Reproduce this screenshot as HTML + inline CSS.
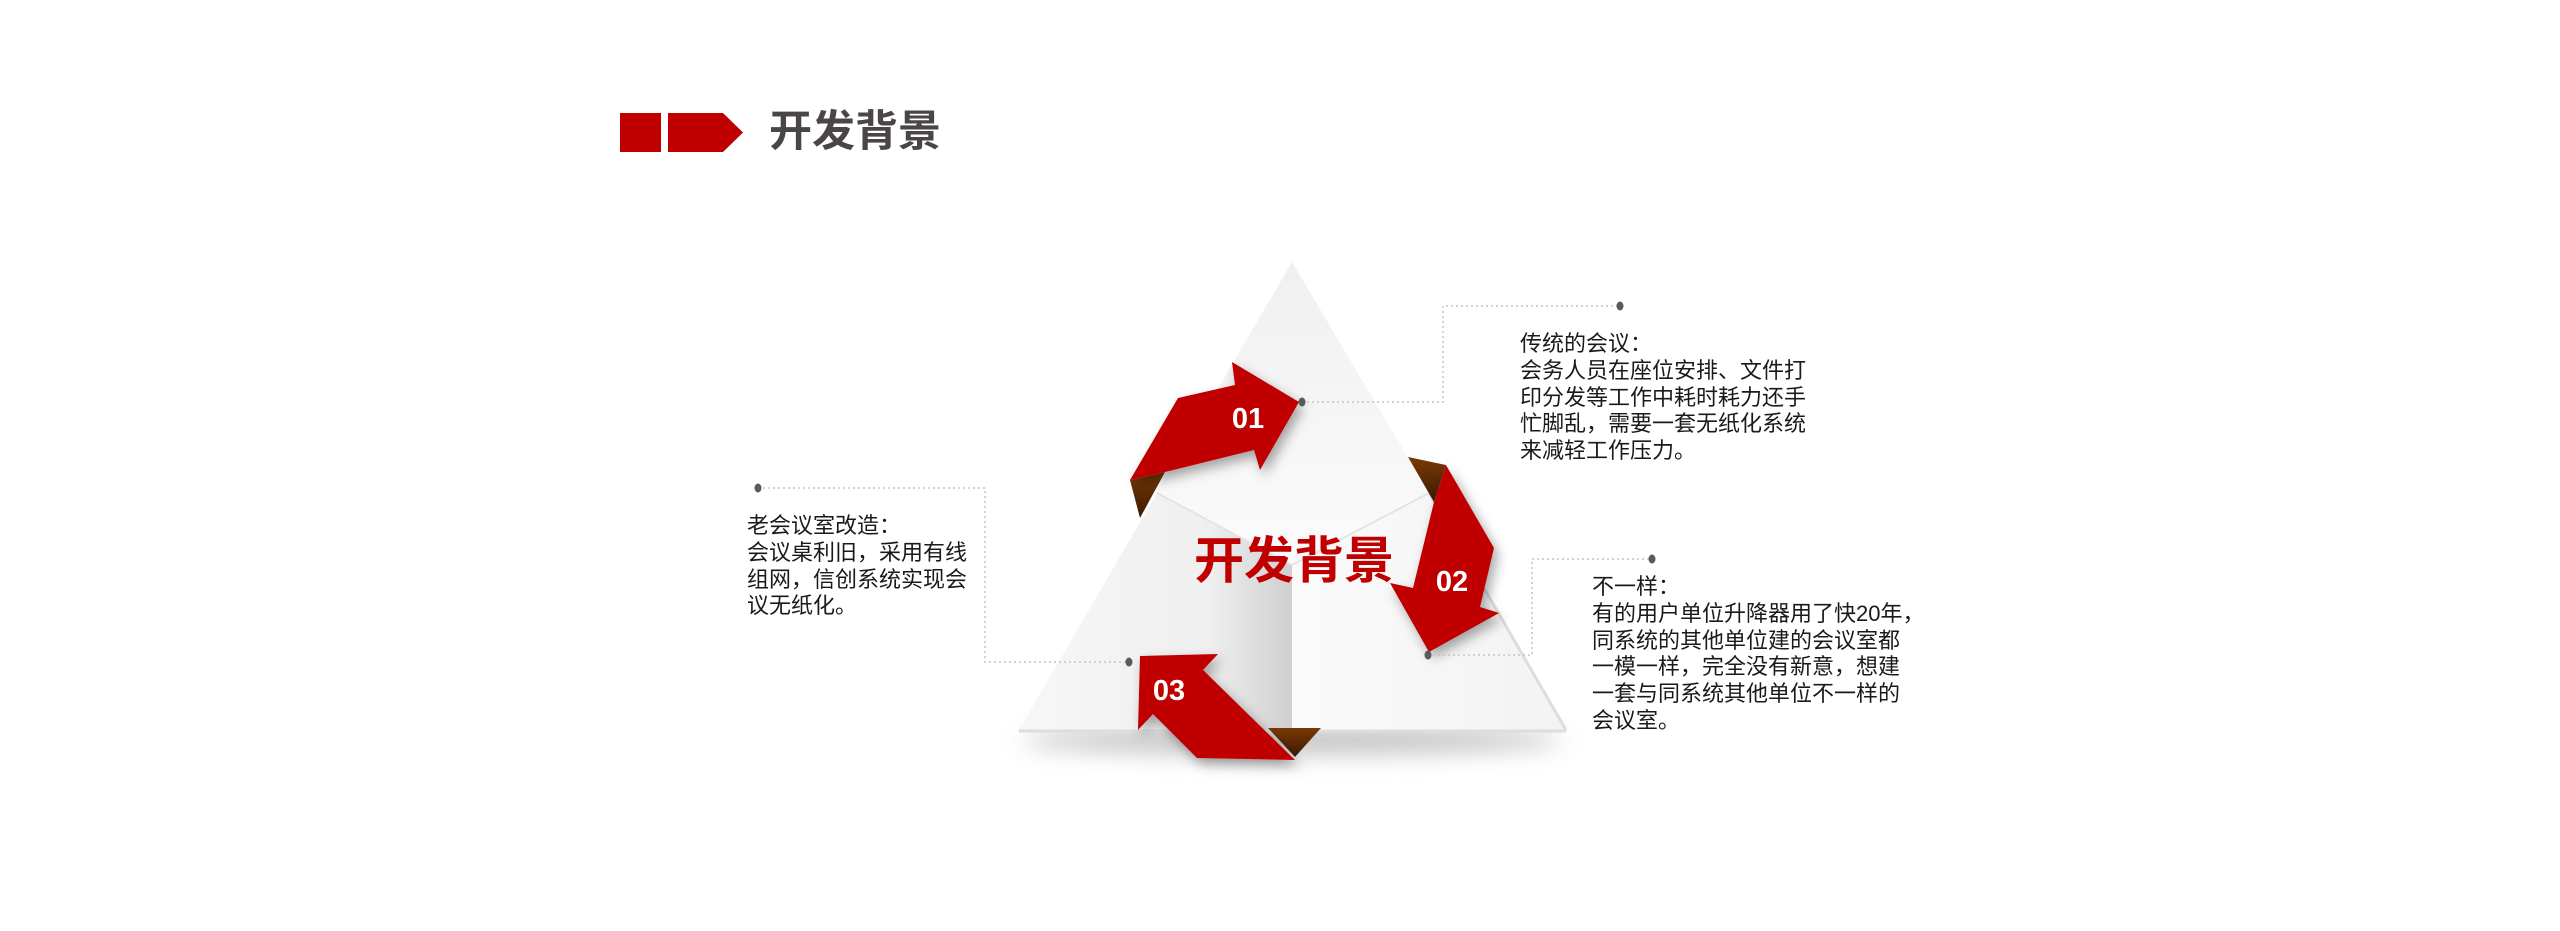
<!DOCTYPE html>
<html><head><meta charset="utf-8"><style>
html,body{margin:0;padding:0;background:#fff;}
body{width:2560px;height:931px;position:relative;overflow:hidden;font-family:"Liberation Sans","Noto Sans CJK SC",sans-serif;}
.t{position:absolute;font-size:22px;line-height:26.8px;color:#1a1a1a;white-space:nowrap;}
</style></head><body>
<svg width="2560" height="931" style="position:absolute;left:0;top:0">
<defs>
<filter id="sh" x="-30%" y="-30%" width="160%" height="160%"><feDropShadow dx="4" dy="6" stdDeviation="6" flood-color="#000" flood-opacity="0.35"/></filter>
<filter id="bl" x="-20%" y="-100%" width="140%" height="300%"><feGaussianBlur stdDeviation="12"/></filter>
<linearGradient id="gt" x1="0" y1="0" x2="0" y2="1"><stop offset="0" stop-color="#f0f0f0"/><stop offset="1" stop-color="#fbfbfb"/></linearGradient>
<linearGradient id="gl" x1="0" y1="0" x2="1" y2="0"><stop offset="0" stop-color="#f7f7f7"/><stop offset="0.7" stop-color="#efefef"/><stop offset="1" stop-color="#cfcfcf"/></linearGradient>
<linearGradient id="gr" x1="0" y1="0" x2="1" y2="0"><stop offset="0" stop-color="#fafafa"/><stop offset="1" stop-color="#f3f3f3"/></linearGradient>
<linearGradient id="br" x1="0" y1="0" x2="0" y2="1"><stop offset="0" stop-color="#7a3a05"/><stop offset="1" stop-color="#3a1a02"/></linearGradient>
</defs>
<!-- header -->
<rect x="620" y="113" width="41" height="39" fill="#c00000"/>
<polygon points="668,113 723,113 743,132.5 723,152 668,152" fill="#c00000"/>
<text x="769" y="146" font-family="Liberation Sans,Noto Sans CJK SC,sans-serif" font-weight="bold" font-size="43" fill="#4a4646">开发背景</text>
<!-- shadow -->
<ellipse cx="1292" cy="740" rx="270" ry="14" fill="#999" opacity="0.6" filter="url(#bl)"/>
<!-- triangle faces -->
<polygon points="1292,262 1429,493 1292,565 1157,493" fill="url(#gt)"/>
<polygon points="1157,493 1292,565 1292,730 1019,730" fill="url(#gl)"/>
<polygon points="1429,493 1566,730 1292,730 1292,565" fill="url(#gr)"/>
<polyline points="1157,493 1292,565 1429,493" fill="none" stroke="#e4e4e4" stroke-width="2"/>
<line x1="1019" y1="731" x2="1566" y2="731" stroke="#ddd" stroke-width="3"/>
<line x1="1429" y1="493" x2="1566" y2="730" stroke="#ddd" stroke-width="3"/>
<!-- brown folds -->
<polygon points="1130,480 1165,472 1140,518" fill="url(#br)"/>
<polygon points="1408,457 1446,465 1434,502" fill="url(#br)"/>
<polygon points="1268,728 1321,728 1295,757" fill="url(#br)"/>
<!-- arrows -->
<polygon filter="url(#sh)" points="1130,480 1178,398 1235,385 1232,362 1299,402 1260,470 1254,450 1165,472" fill="#c00000"/>
<polygon filter="url(#sh)" points="1446,465 1494,548 1480,607 1499,613 1429,652 1390,583 1413,588 1434,502" fill="#c00000"/>
<polygon filter="url(#sh)" points="1140,656 1218,654 1203,670 1295,760 1197,758 1153,714 1138,730" fill="#c00000"/>
<g font-family="Liberation Sans,sans-serif" font-weight="bold" font-size="29" fill="#fff" text-anchor="middle">
<text x="1248" y="428">01</text><text x="1452" y="591">02</text><text x="1169" y="700">03</text>
</g>
<text x="1294" y="578" text-anchor="middle" font-family="Liberation Sans,Noto Sans CJK SC,sans-serif" font-weight="bold" font-size="50" fill="#c00000">开发背景</text>
<!-- connectors -->
<g fill="none" stroke="#c4c4c4" stroke-width="1.5" stroke-dasharray="2,3">
<polyline points="1302,402 1443,402 1443,306 1620,306"/>
<polyline points="1428,655 1532,655 1532,559 1652,559"/>
<polyline points="758,488 985,488 985,662 1129,662"/>
</g>
<g fill="#5a5a5a">
<ellipse cx="1302" cy="402" rx="3.5" ry="4.5"/><ellipse cx="1620" cy="306" rx="3.5" ry="4.5"/>
<ellipse cx="1428" cy="655" rx="3.5" ry="4.5"/><ellipse cx="1652" cy="559" rx="3.5" ry="4.5"/>
<ellipse cx="758" cy="488" rx="3.5" ry="4.5"/><ellipse cx="1129" cy="662" rx="3.5" ry="4.5"/>
</g>
</svg>
<div class="t" style="left:1520px;top:331px">传统的会议：<br>会务人员在座位安排、文件打<br>印分发等工作中耗时耗力还手<br>忙脚乱，需要一套无纸化系统<br>来减轻工作压力。</div>
<div class="t" style="left:1592px;top:574px">不一样：<br>有的用户单位升降器用了快20年，<br>同系统的其他单位建的会议室都<br>一模一样，完全没有新意，想建<br>一套与同系统其他单位不一样的<br>会议室。</div>
<div class="t" style="left:747px;top:513px">老会议室改造：<br>会议桌利旧，采用有线<br>组网，信创系统实现会<br>议无纸化。</div>
</body></html>
